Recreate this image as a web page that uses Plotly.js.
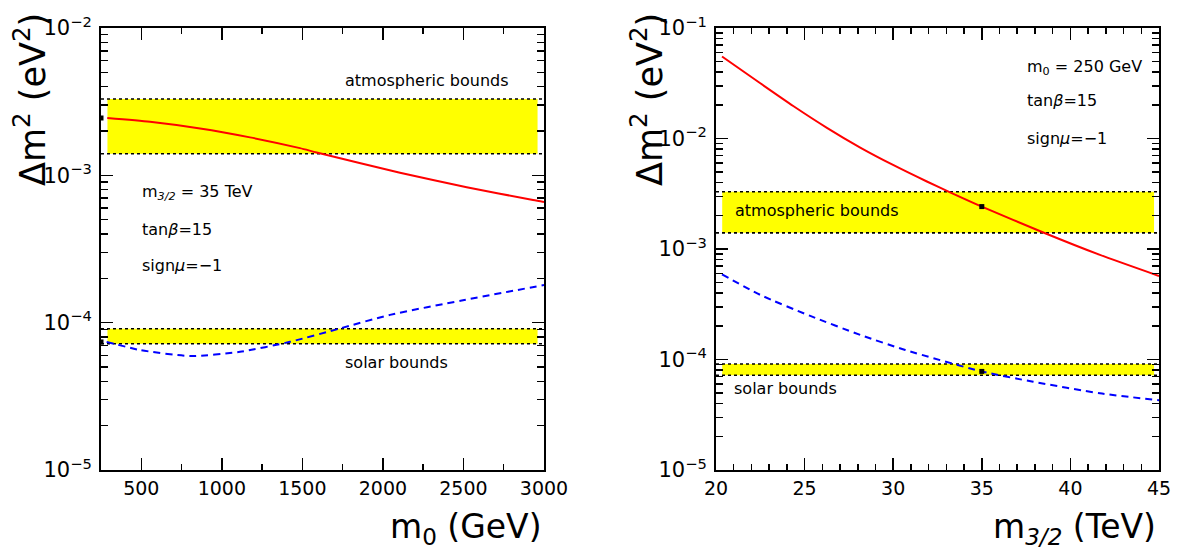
<!DOCTYPE html>
<html><head><meta charset="utf-8">
<script src="https://cdn.plot.ly/plotly-3.0.1.min.js"></script>
<style>body{margin:0;background:#fff}#chart{width:1177px;height:550px}</style>
</head><body><div id="chart"></div><script>
// ---------- data ----------
// bounds on Delta m^2 (eV^2)
const atmBounds = [1.4e-3, 3.3e-3];
const solarBounds = [7.2e-5, 9.1e-5];
// axis ranges and extent of the shaded bands
const m0Range = [250, 3000];
const m0BandExtent = [290, 2960];
const m32Range = [20, 45];
const m32BandExtent = [20.35, 44.72];

// left panel: vs m0 (GeV), m3/2 = 35 TeV
const m0Atm = [289, 554, 865, 1175, 1485, 1589, 2106, 2520, 2932, 3000];
const dm2AtmVsM0 = [2.45e-3, 2.31e-3, 2.08e-3, 1.81e-3, 1.53e-3, 1.43e-3, 1.04e-3, 8.3e-4, 6.8e-4, 6.6e-4];
const m0Sol = [285, 492, 803, 1113, 1423, 1734, 2044, 2497, 3000];
const dm2SolVsM0 = [7.41e-5, 6.52e-5, 5.93e-5, 6.34e-5, 7.41e-5, 9.14e-5, 1.13e-4, 1.42e-4, 1.80e-4];
const m0Mark = [250, 250];
const dm2MarkM0 = [2.45e-3, 7.4e-5];

// right panel: vs m3/2 (TeV), m0 = 250 GeV
const m32Atm = [20.34, 22.50, 24.38, 26.26, 28.14, 30.02, 31.90, 33.21, 35.0, 38.47, 41.67, 45];
const dm2AtmVsM32 = [5.52e-2, 3.16e-2, 1.96e-2, 1.25e-2, 8.28e-3, 5.73e-3, 4.08e-3, 3.26e-3, 2.42e-3, 1.41e-3, 8.84e-4, 5.7e-4];
const m32Sol = [20.34, 22.50, 25.32, 28.14, 30.68, 35.0, 37.9, 41.67, 45];
const dm2SolVsM32 = [5.9e-4, 3.84e-4, 2.48e-4, 1.67e-4, 1.22e-4, 7.79e-5, 6.29e-5, 4.94e-5, 4.28e-5];
const m32Mark = [35, 35];
const dm2MarkM32 = [2.42e-3, 7.8e-5];

const yTickValsL = [1e-5, 1e-4, 1e-3, 1e-2];
const yTickValsR = [1e-5, 1e-4, 1e-3, 1e-2, 1e-1];
const yTickText = v => '10<sup>\u2212' + Math.round(-Math.log10(v)) + '</sup>';

// ---------- build ----------
const W = 1177, H = 550;
const px = x => x / W, py = y => 1 - y / H;

function band(xr, b, xa, ya) {
  return {x:[xr[0],xr[1],xr[1],xr[0],xr[0]], y:[b[0],b[0],b[1],b[1],b[0]],
    xaxis:xa, yaxis:ya, mode:'lines', fill:'toself', fillcolor:'#ffff00',
    line:{width:0}, hoverinfo:'skip', showlegend:false};
}
function dotted(xr, v, xa, ya) {
  return {x:[xr[0], xr[1]], y:[v, v], xaxis:xa, yaxis:ya, mode:'lines',
    line:{color:'#000', width:1.6, dash:'dot'}, showlegend:false};
}
function curve(x, y, xa, ya, color, dash) {
  return {x, y, xaxis:xa, yaxis:ya, mode:'lines',
    line:{color, width:2, dash: dash || 'solid', shape:'spline', smoothing:0.6}, showlegend:false};
}
function marks(x, y, xa, ya) {
  return {x, y, xaxis:xa, yaxis:ya, mode:'markers',
    marker:{symbol:'square', size:5, color:'#000'}, showlegend:false};
}

const traces = [];
[[m0Range, m0BandExtent, 'x', 'y'], [m32Range, m32BandExtent, 'x2', 'y2']].forEach(([r, e, xa, ya]) => {
  traces.push(band(e, atmBounds, xa, ya), band(e, solarBounds, xa, ya));
  [atmBounds[0], atmBounds[1], solarBounds[0], solarBounds[1]].forEach(v => traces.push(dotted(r, v, xa, ya)));
});
traces.push(curve(m0Atm, dm2AtmVsM0, 'x', 'y', '#ff0000'));
traces.push(curve(m0Sol, dm2SolVsM0, 'x', 'y', '#0000ff', '7px,5px'));
traces.push(marks(m0Mark, dm2MarkM0, 'x', 'y'));
traces.push(curve(m32Atm, dm2AtmVsM32, 'x2', 'y2', '#ff0000'));
traces.push(curve(m32Sol, dm2SolVsM32, 'x2', 'y2', '#0000ff', '7px,5px'));
traces.push(marks(m32Mark, dm2MarkM32, 'x2', 'y2'));

function minorLog(e0, e1) {
  const out = [];
  for (let e = e0; e < e1; e++) for (let k = 2; k <= 9; k++) out.push(k * Math.pow(10, e));
  return out;
}
const FONT = 'DejaVu Sans, sans-serif';
const axBase = {showline:true, linecolor:'#000', linewidth:2, mirror:'allticks', ticks:'inside',
  tickcolor:'#000', tickwidth:1.5, ticklen:12, showgrid:false, zeroline:false,
  tickfont:{family:FONT, size:19, color:'#000'}};

function xAxis(dom, r, dt, mdt) {
  return Object.assign({}, axBase, {domain:dom, range:r, tickmode:'linear', tick0:0, dtick:dt,
    ticklabelstandoff:0,
    minor:{ticks:'inside', ticklen:6, tickwidth:1.5, tickcolor:'#000', dtick:mdt, tick0:0, showgrid:false}});
}
function yAxis(dom, anchor, tv, e0, e1) {
  return Object.assign({}, axBase, {domain:dom, anchor, type:'log', range:[e0, e1],
    tickmode:'array', tickvals:tv, ticktext:tv.map(yTickText), ticklabelstandoff:3,
    tickfont:{family:FONT, size:21, color:'#000'},
    minor:{ticks:'inside', ticklen:7, tickwidth:1.5, tickcolor:'#000', tickmode:'array',
      tickvals:minorLog(e0, e1), showgrid:false}});
}

const yDom = [py(470), py(28)];
const layout = {
  width:W, height:H, margin:{l:0, r:0, t:0, b:0}, paper_bgcolor:'#fff', plot_bgcolor:'#fff',
  font:{family:FONT, color:'#000'}, showlegend:false,
  xaxis: Object.assign(xAxis([px(101), px(544)], m0Range, 500, 250), {anchor:'y'}),
  yaxis: yAxis(yDom, 'x', yTickValsL, -5, -2),
  xaxis2: Object.assign(xAxis([px(716), px(1159)], m32Range, 5, 1), {anchor:'y2'}),
  yaxis2: yAxis(yDom, 'x2', yTickValsR, -5, -1),
  annotations: []
};
function ann(text, x, y, o) {
  layout.annotations.push(Object.assign({text, x:px(x), y:py(y), xref:'paper', yref:'paper',
    showarrow:false, xanchor:'left', yanchor:'middle', font:{family:FONT, size:16, color:'#000'}}, o || {}));
}
// left panel texts
ann('atmospheric bounds', 427, 80, {xanchor:'center'});
ann('m<sub><i>3/2</i></sub> = 35 TeV', 140, 193);
ann('tan<i>\u03b2</i>=15', 140, 229);
ann('sign<i>\u03bc</i>=\u22121', 140, 265);
ann('solar bounds', 396, 362, {xanchor:'center'});
// right panel texts
ann('m<sub>0</sub> = 250 GeV', 1025, 67);
ann('tan<i>\u03b2</i>=15', 1025, 100);
ann('sign<i>\u03bc</i>=\u22121', 1025, 138);
ann('atmospheric bounds', 733, 211);
ann('solar bounds', 732, 388);
// axis titles
ann('m<sub>0</sub> (GeV)', 544, 528, {xanchor:'right', font:{family:FONT, size:33, color:'#000'}});
ann('m<sub><i>3/2</i></sub> (TeV)', 1158, 528, {xanchor:'right', font:{family:FONT, size:33, color:'#000'}});
ann('\u0394m<sup>2</sup> (eV<sup>2</sup>)', 30, 100, {xanchor:'center', textangle:-90, font:{family:FONT, size:35, color:'#000'}});
ann('\u0394m<sup>2</sup> (eV<sup>2</sup>)', 647, 100, {xanchor:'center', textangle:-90, font:{family:FONT, size:35, color:'#000'}});

Plotly.newPlot('chart', traces, layout, {staticPlot:true, displayModeBar:false});
</script></body></html>
